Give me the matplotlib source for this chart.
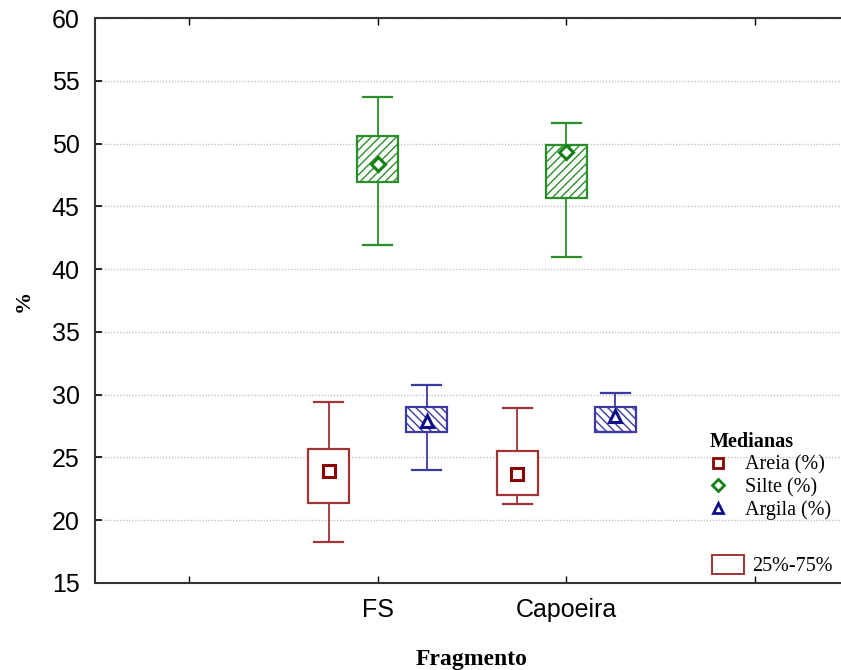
import matplotlib
matplotlib.use("Agg")
import matplotlib.pyplot as plt
from matplotlib.lines import Line2D
from matplotlib.patches import Patch

# Fragments on the x axis (tick positions 2 and 3)
fragmentos = ["FS", "Capoeira"]
tick_labels = ["", "FS", "Capoeira", ""]

# Granulometry per fragment: [FS, Capoeira]
areia_med = [23.9, 23.7]
areia_q25 = [21.4, 22.0]
areia_q75 = [25.7, 25.5]
areia_min = [18.3, 21.3]
areia_max = [29.4, 28.9]

silte_med = [48.35, 49.3]
silte_q25 = [46.9, 45.65]
silte_q75 = [50.6, 49.9]
silte_min = [41.95, 41.0]
silte_max = [53.7, 51.65]

argila_med = [27.9, 28.3]
argila_q25 = [27.0, 27.0]
argila_q75 = [29.0, 29.0]
argila_min = [24.0, 27.0]
argila_max = [30.8, 30.15]

series = [
    # label, med, q25, q75, min, max, offset, line colour, marker colour, marker, hatch
    ("Areia (%)", areia_med, areia_q25, areia_q75, areia_min, areia_max,
     -0.26, "#9E3434", "#8B0000", "s", None),
    ("Silte (%)", silte_med, silte_q25, silte_q75, silte_min, silte_max,
     0.0, "#2A8F2A", "#148014", "D", "////"),
    ("Argila (%)", argila_med, argila_q25, argila_q75, argila_min, argila_max,
     0.26, "#3A3AA2", "#10108C", "^", "\\\\\\\\"),
]

plt.rcParams["hatch.linewidth"] = 1.0

fig = plt.figure(figsize=(8.41, 6.70), dpi=100)
ax = fig.add_axes([95 / 841, 87 / 670, 754 / 841, 565 / 670])

base_x = [2, 3]
for (lab, med, q1, q3, lo, hi, off, col, mcol, mk, hatch) in series:
    stats = []
    pos = []
    for i in range(len(fragmentos)):
        stats.append(dict(med=med[i], q1=q1[i], q3=q3[i],
                          whislo=lo[i], whishi=hi[i], fliers=[]))
        pos.append(base_x[i] + off)
    bp = ax.bxp(stats, positions=pos, widths=0.215, capwidths=0.155,
                patch_artist=True, showfliers=False,
                boxprops=dict(edgecolor=col, facecolor="white", linewidth=1.6),
                whiskerprops=dict(color=col, linewidth=1.3),
                capprops=dict(color=col, linewidth=1.6),
                medianprops=dict(linewidth=0), zorder=3)
    for b in bp["boxes"]:
        if hatch:
            b.set_hatch(hatch)
    ax.plot(pos, med, linestyle="none", marker=mk, markersize=8.5 if mk != "D" else 7.5,
            markerfacecolor="white", markeredgecolor=mcol, markeredgewidth=2.2,
            zorder=5)

ax.set_xlim(0.5, 4.5)
ax.set_ylim(15, 60)
ax.set_yticks(range(15, 61, 5))
ax.set_xticks([1, 2, 3, 4])
ax.set_xticklabels(tick_labels)

for lbl in ax.get_xticklabels() + ax.get_yticklabels():
    lbl.set_fontfamily("Liberation Sans")
    lbl.set_fontsize(18)

ax.tick_params(axis="y", direction="in", length=5, width=1.2, pad=11, left=True, right=False)
ax.tick_params(axis="x", direction="in", length=5, width=1.0, pad=11, top=True, bottom=True)

ax.yaxis.grid(True, linestyle=(0, (1, 1.2)), color="#c4c4c4", linewidth=1.0)
ax.set_axisbelow(True)

for s in ["left", "bottom", "top"]:
    ax.spines[s].set_color("#333333")
    ax.spines[s].set_linewidth(1.5)
ax.spines["right"].set_visible(False)

ax.set_xlabel("Fragmento", fontfamily="Liberation Serif", fontweight="bold",
              fontsize=17, labelpad=19)
ax.set_ylabel("%", fontfamily="Liberation Serif", fontweight="bold",
              fontsize=16, labelpad=13)

# Legend for the median markers
handles = [Line2D([], [], linestyle="none", marker=s[9], markersize=7 if s[9] != "D" else 6,
                  markerfacecolor="white", markeredgecolor=s[8], markeredgewidth=2.0)
           for s in series]
leg1 = fig.legend(handles, [s[0] for s in series], title="Medianas",
                  loc="upper left", bbox_to_anchor=(696 / 841, 1 - 418 / 670),
                  frameon=False, prop=dict(family="Liberation Serif", size=14.5),
                  title_fontproperties=dict(family="Liberation Serif", weight="bold", size=14.5),
                  labelspacing=0.16, handlelength=0.8, handletextpad=0.95,
                  borderpad=0.2, alignment="left")

# Legend for the interquartile box
leg2 = fig.legend([Patch(facecolor="white", edgecolor="#9E3434", linewidth=1.4)],
                  ["25%-75%"], loc="upper left",
                  bbox_to_anchor=(698 / 841, 1 - 541 / 670),
                  frameon=False, prop=dict(family="Liberation Serif", size=14.5),
                  handlelength=1.6, handleheight=1.05, handletextpad=0.4,
                  borderpad=0.2)

fig.savefig("out.png", dpi=100)
